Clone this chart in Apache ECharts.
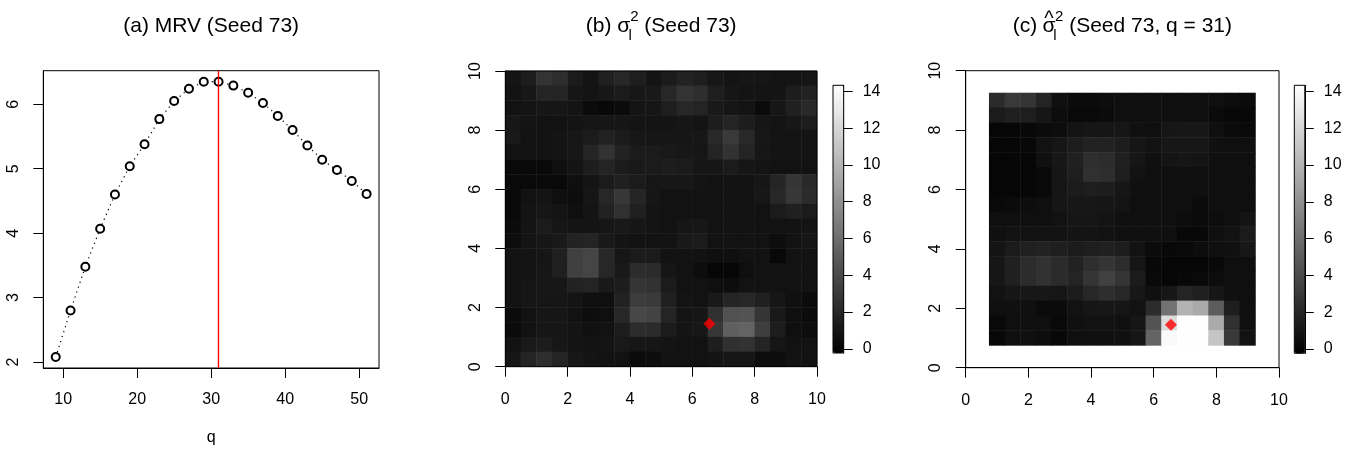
<!DOCTYPE html>
<html>
<head>
<meta charset="utf-8">
<script src="https://cdn.jsdelivr.net/npm/echarts@6/dist/echarts.min.js"></script>
<style>
  html, body { margin: 0; padding: 0; background: #fff; }
  #chart { width: 1362px; height: 458px; }
</style>
</head>
<body>
<div id="chart"></div>
<script>
// ---- data ----
var qValues = [9, 11, 13, 15, 17, 19, 21, 23, 25, 27, 29, 31, 33, 35, 37, 39, 41, 43, 45, 47, 49, 51];
var mrvValues = [2.08, 2.80, 3.48, 4.07, 4.60, 5.04, 5.38, 5.77, 6.05, 6.24, 6.35, 6.35,
                 6.29, 6.18, 6.02, 5.82, 5.60, 5.36, 5.14, 4.98, 4.81, 4.61];
var qSelected = 31;
var qTicks = [10, 20, 30, 40, 50];
var mrvTicks = [2, 3, 4, 5, 6];
var mapTicks = [0, 2, 4, 6, 8, 10];
var barTicks = [0, 2, 4, 6, 8, 10, 12, 14];
var barRange = [-0.23, 14.33];
var siteMarker = [6.55, 1.45];

// (b) true sigma^2 field, cell centres and rows from top (y = 9.75) to bottom (y = 0.25)
var trueCells = [0.25, 0.75, 1.25, 1.75, 2.25, 2.75, 3.25, 3.75, 4.25, 4.75,
                 5.25, 5.75, 6.25, 6.75, 7.25, 7.75, 8.25, 8.75, 9.25, 9.75];
var trueRows = [
  [0.9,1.4,2.7,2.4,1.3,0.9,1.6,2.0,1.5,0.9,1.3,1.7,1.5,1.1,0.9,1.0,1.0,0.9,0.9,1.0],
  [0.8,1.1,1.9,1.8,1.0,0.9,1.1,1.3,1.1,1.2,2.0,2.7,2.4,1.5,1.0,0.9,0.9,0.9,1.4,1.7],
  [0.8,0.9,1.0,1.0,0.9,0.4,0.2,0.4,0.9,1.0,1.5,2.0,1.8,1.2,1.0,0.9,0.4,1.0,1.6,2.1],
  [1.1,0.9,0.8,0.8,0.9,1.0,1.0,1.0,0.9,0.9,0.9,1.0,0.9,1.4,1.8,1.4,1.0,0.9,1.1,1.4],
  [1.2,0.8,0.8,0.9,1.1,1.3,1.7,1.3,1.1,1.0,1.0,1.0,1.1,2.1,3.0,2.1,1.1,0.9,0.9,0.9],
  [0.8,0.8,0.8,0.9,1.1,1.9,2.6,1.7,1.3,1.3,1.2,1.1,1.0,1.8,2.6,1.8,1.0,0.9,0.9,0.9],
  [0.3,0.3,0.3,0.6,0.9,1.4,1.8,1.3,1.2,1.3,1.4,1.3,1.0,1.0,1.3,1.0,0.9,0.8,0.8,0.8],
  [0.3,0.3,0.3,0.3,0.6,0.9,1.3,1.6,1.3,1.0,1.1,1.1,0.9,0.8,0.8,0.8,1.0,1.9,2.8,2.1],
  [0.3,0.8,0.9,0.6,0.5,1.0,2.0,2.9,1.9,1.0,0.8,0.8,0.8,0.8,0.8,0.8,1.1,2.0,2.9,2.2],
  [0.3,0.9,1.0,0.9,0.6,0.9,1.7,2.5,1.6,0.9,0.8,0.8,0.8,0.8,0.8,0.8,0.8,1.3,1.6,1.3],
  [0.4,0.9,1.3,1.0,0.9,0.9,1.0,1.2,1.0,0.9,0.8,1.0,1.1,0.8,0.8,0.8,0.8,0.8,0.8,0.9],
  [0.5,0.9,1.0,1.2,1.7,1.8,1.2,0.9,0.8,0.8,0.8,1.2,1.3,0.8,0.8,0.8,0.8,0.5,0.8,1.0],
  [0.8,0.9,1.0,1.6,3.4,3.7,2.0,1.0,1.3,1.3,0.8,0.8,0.8,0.6,0.6,0.8,0.8,0.2,0.8,0.8],
  [0.8,0.9,1.0,1.6,3.4,3.7,2.0,1.2,2.3,2.2,1.0,0.8,0.5,0.1,0.1,0.6,0.8,0.8,0.8,0.8],
  [0.8,1.0,1.1,1.1,1.7,1.8,1.2,1.4,2.8,2.6,1.3,0.8,0.8,0.6,0.5,0.8,0.8,0.8,0.8,0.8],
  [0.8,1.0,1.0,1.0,0.9,0.6,0.6,1.7,3.2,3.1,1.6,0.9,0.8,1.2,1.9,2.0,1.6,1.0,0.7,0.4],
  [0.4,0.8,1.0,1.0,0.8,0.5,0.6,2.0,3.8,3.6,1.8,0.9,1.0,2.5,4.4,4.5,2.8,1.2,0.6,0.4],
  [0.4,0.8,1.0,1.0,0.9,0.7,0.8,1.4,2.3,2.2,1.3,0.9,1.1,2.9,5.2,5.4,3.3,1.4,0.6,0.5],
  [0.8,1.2,1.4,1.1,0.9,0.8,0.9,1.2,1.0,1.0,0.9,0.8,0.8,1.5,2.5,2.6,1.8,1.0,0.8,0.8],
  [1.0,1.8,2.4,1.8,1.1,0.9,0.8,0.8,0.4,0.5,0.8,0.8,0.8,0.9,1.0,1.0,0.5,0.5,0.8,0.8]
];

// (c) estimated sigma^2 field (q = 31), rows from top (y = 9.0) to bottom (y = 1.0)
var estCells = [1.0, 1.5, 2.0, 2.5, 3.0, 3.5, 4.0, 4.5, 5.0, 5.5, 6.0, 6.5, 7.0, 7.5, 8.0, 8.5, 9.0];
var estRows = [
  [2.2,3.0,2.8,1.8,0.7,0.4,0.4,0.5,0.6,0.6,0.6,0.6,0.6,0.6,0.6,0.5,0.4],
  [1.3,1.6,1.5,1.0,0.5,0.3,0.3,0.4,0.6,0.6,0.6,0.6,0.6,0.6,0.4,0.2,0.2],
  [0.1,0.1,0.2,0.4,0.5,0.9,1.0,1.0,1.0,0.7,0.6,1.0,1.1,1.1,0.6,0.4,0.3],
  [0.1,0.1,0.2,0.8,1.0,1.4,1.7,1.7,1.4,1.0,0.8,1.1,1.1,1.1,0.7,0.6,0.6],
  [0.1,0.1,0.1,0.7,1.1,1.6,2.4,2.3,1.6,1.0,0.7,0.9,1.0,0.9,0.6,0.6,0.6],
  [0.1,0.1,0.1,0.3,1.0,1.5,2.5,2.4,1.5,0.8,0.6,0.6,0.6,0.6,0.6,0.6,0.6],
  [0.1,0.1,0.1,0.3,1.0,1.3,1.5,1.4,1.0,0.7,0.6,0.6,0.6,0.6,0.6,0.6,0.6],
  [0.3,0.4,0.5,0.6,1.0,1.1,1.1,1.0,0.9,0.6,0.6,0.6,0.6,0.4,0.6,0.6,0.6],
  [0.6,0.6,0.6,0.6,0.8,1.0,1.0,0.9,0.7,0.6,0.6,0.6,0.5,0.4,0.5,0.6,0.9],
  [0.7,0.8,0.8,0.8,0.8,0.9,0.9,0.8,0.7,0.6,0.6,0.6,0.2,0.2,0.6,0.8,1.3],
  [0.9,1.3,1.6,1.7,1.5,1.3,1.5,1.6,1.4,0.8,0.4,0.2,0.3,0.5,0.6,0.7,1.1],
  [1.0,1.6,2.3,2.6,2.2,1.7,2.4,2.8,2.3,1.0,0.2,0.1,0.1,0.1,0.3,0.6,0.6],
  [1.0,1.6,2.3,2.6,2.2,1.8,2.8,3.5,2.8,1.3,0.3,0.1,0.2,0.3,0.5,0.6,0.6],
  [0.8,1.0,1.1,1.1,1.0,1.3,2.0,2.4,2.0,1.1,0.7,1.1,1.8,1.6,1.0,0.7,0.6],
  [0.6,0.7,0.7,0.4,0.4,0.8,1.0,1.1,1.0,0.8,2.3,6.3,10.0,9.5,5.0,1.5,0.6],
  [0.3,0.6,0.7,0.6,0.3,0.7,0.8,0.8,0.7,1.0,4.5,12.3,14.3,14.3,9.5,2.5,0.7],
  [0.2,0.6,0.7,0.5,0.2,0.6,0.7,0.7,0.7,1.0,5.5,14.0,14.3,14.3,11.0,3.0,0.8]
];

// ---- layout (pixels) ----
var FONT = 'Liberation Sans';
var boxA = { left: 43.3, top: 70.7, width: 335.7, height: 297.3 };
var boxB = { left: 505.3, top: 71, width: 311.7, height: 295.7 };
var boxC = { left: 965.7, top: 70.7, width: 313.3, height: 297 };
var barB = { left: 833, top: 85.3, width: 10.7, height: 267.7 };
var barC = { left: 1294.3, top: 85.3, width: 10.5, height: 268 };

function cellData(rows) {
    var out = [], n = rows.length;
    rows.forEach(function(row, r) {
        row.forEach(function(v, c) { out.push([c, n - 1 - r, v]); });
    });
    return out;
}

// pixel rect of the image part of a 0..10 frame
function innerRect(box, cells) {
    var half = (cells[1] - cells[0]) / 2,
        lo = cells[0] - half,
        hi = cells[cells.length - 1] + half;
    return {
        left: box.left + lo / 10 * box.width,
        top: box.top + (10 - hi) / 10 * box.height,
        width: (hi - lo) / 10 * box.width,
        height: (hi - lo) / 10 * box.height
    };
}

function gridOf(rect, showBox, z) {
    return {
        left: rect.left, top: rect.top, width: rect.width, height: rect.height,
        show: showBox, borderColor: '#000', borderWidth: 1, backgroundColor: 'transparent',
        z: z || 0, containLabel: false, outerBoundsMode: 'none'
    };
}

var labelStyle = { color: '#000', fontSize: 16, fontFamily: FONT };

function valueAxis(gridIndex, opts) {
    return Object.assign({
        type: 'value', gridIndex: gridIndex,
        axisLine: { show: true, onZero: false, lineStyle: { color: '#000', width: 1 } },
        axisTick: { show: true, inside: false, length: 10, lineStyle: { color: '#000', width: 1 } },
        axisLabel: Object.assign({ margin: 24 }, labelStyle),
        splitLine: { show: false }
    }, opts);
}

function hiddenCat(gridIndex, cells) {
    return { type: 'category', gridIndex: gridIndex, data: cells, show: false, boundaryGap: true };
}

function barAxisY(gridIndex) {
    return valueAxis(gridIndex, {
        position: 'right', min: barRange[0], max: barRange[1],
        axisTick: { show: true, length: 9, customValues: barTicks, lineStyle: { color: '#000' } },
        axisLabel: Object.assign({ margin: 19, customValues: barTicks }, labelStyle)
    });
}

var frameX = function(gi) {
    return valueAxis(gi, { min: 0, max: 10, interval: 2, axisLabel: Object.assign({ margin: 25 }, labelStyle) });
};
var frameY = function(gi) {
    return valueAxis(gi, { min: 0, max: 10, interval: 2, axisLabel: Object.assign({ margin: 22, rotate: 90 }, labelStyle) });
};

// rich text tokens are centred on their slot, so zero-width tokens stack on one point
var SIGMA_W = 12;
var titleRich = {
    t: { fontSize: 21, fontFamily: FONT, lineHeight: 34, fill: '#000' },
    sg: { fontSize: 21, fontFamily: FONT, lineHeight: 34, width: 0, fill: '#000' },
    half: { fontSize: 21, fontFamily: FONT, lineHeight: 34, width: SIGMA_W / 2 },
    sub: { fontSize: 15, fontFamily: FONT, lineHeight: 17, verticalAlign: 'bottom', width: 0, fill: '#000' },
    sup: { fontSize: 15, fontFamily: FONT, lineHeight: 18, verticalAlign: 'top', fill: '#000' },
    hat: { fontSize: 20, fontFamily: FONT, lineHeight: 16, verticalAlign: 'top', width: 0, fill: '#000' }
};

function titleText(x, text) {
    return {
        type: 'text', x: x, y: 26, z: 10,
        style: { text: text, align: 'center', verticalAlign: 'middle', rich: titleRich }
    };
}

var chart = echarts.init(document.getElementById('chart'), null, { renderer: 'canvas' });

chart.setOption({
    animation: false,
    backgroundColor: '#fff',
    graphic: [
        titleText(boxA.left + boxA.width / 2, '{t|(a) MRV (Seed 73)}'),
        titleText(boxB.left + boxB.width / 2, '{t|(b) σ}{sub|l}{sup|2}{t| (Seed 73)}'),
        titleText(boxC.left + boxC.width / 2,
            '{t|(c) }{half| }{hat|^}{sg|σ}{half| }{sub|l}{sup|2}{t| (Seed 73, q = 31)}')
    ],
    grid: [
        gridOf(boxA, true),                          // 0 MRV
        gridOf(innerRect(boxB, trueCells), false),   // 1 true field cells
        gridOf(boxB, true, 3),                       // 2 true field frame
        gridOf(barB, true, 10),                      // 3 colour bar b
        gridOf(innerRect(boxC, estCells), false),    // 4 estimated field cells
        gridOf(boxC, true, 3),                       // 5 estimated field frame
        gridOf(barC, true, 10)                       // 6 colour bar c
    ],
    xAxis: [
        valueAxis(0, {
            min: 7.32, max: 52.68,
            axisTick: { show: true, length: 10, customValues: qTicks, lineStyle: { color: '#000' } },
            axisLabel: Object.assign({ margin: 24, customValues: qTicks }, labelStyle),
            name: 'q', nameLocation: 'middle', nameGap: 62,
            nameTextStyle: { color: '#000', fontSize: 16, fontFamily: FONT }
        }),
        hiddenCat(1, trueCells),
        frameX(2),
        { type: 'value', gridIndex: 3, show: false, min: 0, max: 1 },
        hiddenCat(4, estCells),
        frameX(5),
        { type: 'value', gridIndex: 6, show: false, min: 0, max: 1 }
    ],
    yAxis: [
        valueAxis(0, {
            min: 1.909, max: 6.521,
            axisTick: { show: true, length: 10, customValues: mrvTicks, lineStyle: { color: '#000' } },
            axisLabel: Object.assign({ margin: 22, rotate: 90, customValues: mrvTicks }, labelStyle)
        }),
        hiddenCat(1, trueCells),
        frameY(2),
        barAxisY(3),
        hiddenCat(4, estCells),
        frameY(5),
        barAxisY(6)
    ],
    visualMap: [{
        type: 'continuous', seriesIndex: 1, min: barRange[0], max: barRange[1],
        left: barB.left, top: barB.top, itemWidth: barB.width, itemHeight: barB.height,
        padding: 0, calculable: false, hoverLink: false, text: null, showLabel: false,
        inRange: { color: ['#000000', '#ffffff'] }
    }, {
        type: 'continuous', seriesIndex: 3, min: barRange[0], max: barRange[1],
        left: barC.left, top: barC.top, itemWidth: barC.width, itemHeight: barC.height,
        padding: 0, calculable: false, hoverLink: false, text: null, showLabel: false,
        inRange: { color: ['#000000', '#ffffff'] }
    }],
    series: [{
        type: 'line', xAxisIndex: 0, yAxisIndex: 0,
        data: qValues.map(function(q, i) { return [q, mrvValues[i]]; }),
        symbol: 'emptyCircle', symbolSize: 8,
        itemStyle: { color: '#000', borderColor: '#000', borderWidth: 1.5 },
        lineStyle: { color: '#000', width: 1.2, type: [1.2, 4] },
        markLine: {
            silent: true, symbol: ['none', 'none'], label: { show: false },
            lineStyle: { color: '#ff0000', width: 1.4, type: 'solid' },
            data: [{ xAxis: qSelected }]
        }
    }, {
        type: 'heatmap', xAxisIndex: 1, yAxisIndex: 1,
        data: cellData(trueRows), progressive: 0,
        itemStyle: { borderWidth: 0 }, emphasis: { disabled: true }
    }, {
        type: 'scatter', xAxisIndex: 2, yAxisIndex: 2, z: 5,
        data: [siteMarker], symbol: 'diamond', symbolSize: 12,
        itemStyle: { color: '#ff0000' }
    }, {
        type: 'heatmap', xAxisIndex: 4, yAxisIndex: 4,
        data: cellData(estRows), progressive: 0,
        itemStyle: { borderWidth: 0 }, emphasis: { disabled: true }
    }, {
        type: 'scatter', xAxisIndex: 5, yAxisIndex: 5, z: 5,
        data: [siteMarker], symbol: 'diamond', symbolSize: 12,
        itemStyle: { color: '#ff0000' }
    }]
});
</script>
</body>
</html>
